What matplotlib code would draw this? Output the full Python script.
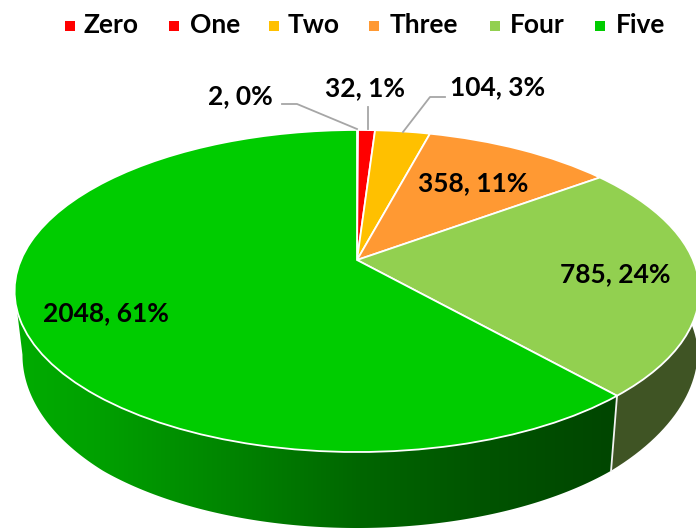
import numpy as np
import matplotlib
matplotlib.use('Agg')
import matplotlib.pyplot as plt
from matplotlib.patches import Polygon
from matplotlib.path import Path
from matplotlib.transforms import Transform

categories = ['Zero', 'One', 'Two', 'Three', 'Four', 'Five']
values = [2, 32, 104, 358, 785, 2048]
percents = [0, 1, 3, 11, 24, 61]
colors = ['#FF0000', '#FF0000', '#FFC000', '#FF9933', '#92D050', '#00CC00']

plt.rcParams['font.family'] = ['Lato', 'DejaVu Sans']

# perspective of the pie's top face, output is image pixels
CX, CY, KX, B, C = 357.0, 260.0, 336.0, -105.0, 0.1925


class Tilt(Transform):
    input_dims = 2
    output_dims = 2

    def transform_non_affine(self, xy):
        xy = np.asarray(xy, dtype=float)
        den = 1 + C * xy[:, 1]
        return np.column_stack([CX + KX * xy[:, 0] / den, (CY + B * xy[:, 1]) / den])

    def transform_path_non_affine(self, path):
        return Path(self.transform_non_affine(path.vertices), path.codes)


def rim(theta):
    # theta in degrees clockwise from the top
    t = np.radians(theta)
    return Tilt().transform_non_affine(np.column_stack([np.sin(t), np.cos(t)]))


def lower(pts):
    # bottom edge bulges a little more on the right side
    scale = np.where(pts[:, 0] > CX, np.interp(pts[:, 1], [291, 396], [0.995, 0.977]), 0.977)
    x = CX + scale * (pts[:, 0] - CX)
    y = pts[:, 1] + np.interp(pts[:, 1], [291, 396, 452], [64, 75, 76])
    return x, y


fig = plt.figure(figsize=(6.96, 5.29), dpi=100)
ax = fig.add_axes([0, 0, 1, 1])

wedges, _ = ax.pie(values, colors=colors, startangle=90, counterclock=False,
                   wedgeprops=dict(edgecolor='white', linewidth=1.3))
for w in wedges:
    w.set_transform(Tilt() + ax.transData)
    w.set_zorder(3)

# side wall of the two slices that show at the front
edges = np.cumsum([0] + values) / sum(values) * 360
start_four, start_five = edges[4], edges[5]

th = np.linspace(start_four, start_five, 60)
p = rim(th)
xb, yb = lower(p)
ax.fill(np.r_[p[:, 0], xb[::-1]], np.r_[p[:, 1], yb[::-1]], color='#3F5424', lw=0, zorder=1)

# the Five wall gets a left to right shade, clipped to its outline
# it stops at the left tip of the face, further round it is hidden anyway
th = np.linspace(start_five, 259, 200)
p = rim(th)
xb, yb = lower(p)
outline = Polygon(np.column_stack([np.r_[p[:, 0], xb[::-1]], np.r_[p[:, 1], yb[::-1]]]),
                  closed=True, transform=ax.transData, facecolor='none', edgecolor='none')
ax.add_patch(outline)
px = np.arange(696)
shade = np.interp(px, [20, 100, 230, 360, 480, 610], [172, 160, 132, 102, 84, 70]) / 255
grad = np.zeros((1, 696, 3))
grad[0, :, 1] = shade
im = ax.imshow(grad, extent=[0, 696, 529, 0], aspect='auto', zorder=1, interpolation='bilinear')
im.set_clip_path(outline)

# white seam between the two walls
s = rim(np.array([start_five]))
xb, yb = lower(s)
ax.plot([s[0, 0], xb[0]], [s[0, 1], yb[0]], color='#F2F2F2', lw=1.3, zorder=2)

# leader lines
leader_color = '#A6A6A6'
ax.plot([282, 297, 357], [104, 104, 129], color=leader_color, lw=1.3, zorder=4)
ax.plot([368, 368], [107, 129], color=leader_color, lw=1.3, zorder=4)
ax.plot([445, 430, 403], [97, 97, 132], color=leader_color, lw=1.3, zorder=4)

# data labels
label_pos = [(240, 96), (365, 88), (498, 87), (473, 183), (615, 274), (106, 313)]
for v, pc, (x, y) in zip(values, percents, label_pos):
    ax.text(x, y, f'{v}, {pc}%', ha='center', va='center', fontsize=19, fontweight='bold',
            color='black', zorder=5)

# legend
legend_marker_x = [70, 174, 274, 374, 495, 600]
legend_text_x = [84, 190, 288, 390, 510, 616]
for name, col, mx, tx in zip(categories, colors, legend_marker_x, legend_text_x):
    ax.scatter([mx], [26], marker='s', s=42, color=col, linewidths=0, zorder=5)
    ax.text(tx, 25, name, ha='left', va='center', fontsize=19, fontweight='bold', color='black')

ax.set_aspect('auto')
ax.set_xlim(0, 696)
ax.set_ylim(529, 0)
ax.axis('off')

fig.savefig('out.png', dpi=100, facecolor='white')
